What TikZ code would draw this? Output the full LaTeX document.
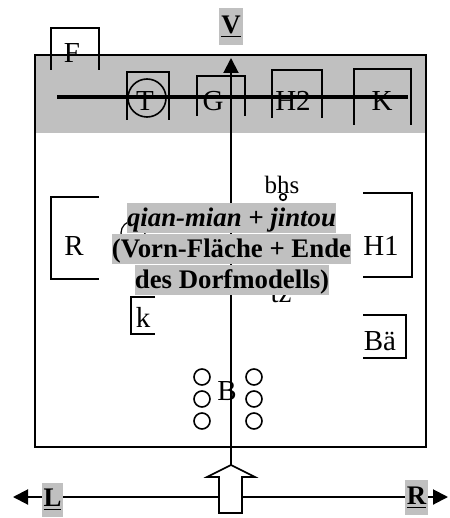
\documentclass[tikz,border=0pt]{standalone}
\usepackage{fontspec}
\setmainfont{Liberation Serif}
\usepackage{tikz}
\usetikzlibrary{arrows.meta}
\usepackage{xcolor}
\definecolor{dfgray}{RGB}{192,192,192}
\tikzset{
  sitelabel/.style={font=\fontsize{14.5}{16}\selectfont,inner sep=0pt,anchor=base},
  dirlabel/.style={font=\fontsize{13.4}{15}\bfseries,fill=dfgray,inner sep=0pt},
  textline/.style={font=\fontsize{13.4}{15}\bfseries,fill=dfgray,inner xsep=0pt,inner ysep=0pt,
    text height=11.5pt,text depth=3.5pt},
  bracketline/.style={line width=0.8pt},
  framebox/.style={line width=1pt},
  ridgebar/.style={line width=2.2pt},
  dirarrow/.style={line width=1pt,-{Triangle[length=7.5pt,width=7.5pt]}},
  seatcircle/.style={line width=0.8pt}
}

\begin{document}
\begin{tikzpicture}[x=0.5pt,y=-0.5pt]
  \useasboundingbox (0,0) rectangle (449,518);
  % front band and frame
  \fill[dfgray] (35,55) rectangle (426,133);
  \draw[framebox] (35,55) rectangle (426,447);
  % open boxes
  \draw[bracketline] (51,70) -- (51,28) -- (99,28) -- (99,70);
  \draw[bracketline] (127,120) -- (127,72) -- (169,72) -- (169,120);
  \draw[bracketline] (197,116) -- (197,76) -- (245,76) -- (245,116);
  \draw[bracketline] (272,118) -- (272,70) -- (322,70) -- (322,118);
  \draw[bracketline] (354,125) -- (354,69) -- (411,69) -- (411,125);
  \draw[bracketline] (99,197) -- (51,197) -- (51,279) -- (99,279);
  \draw[bracketline] (363,193) -- (412,193) -- (412,277) -- (363,277);
  \draw[bracketline] (155,297) -- (131,297) -- (131,334) -- (155,334);
  \draw[bracketline] (363,315) -- (406,315) -- (406,358) -- (363,358);
  \draw[seatcircle] (147,98) circle[radius=9.5pt];
  \draw[seatcircle,line width=0.6pt] (133,233) circle[radius=6pt];
  \draw[seatcircle] (283,197) circle[radius=1.65pt];
  % site labels
  \node[sitelabel] (f) at (72,63) {F};
  \node[sitelabel] (t) at (145,111) {T};
  \node[sitelabel] (g) at (213,111) {G};
  \node[sitelabel] (h2) at (293,111) {H2};
  \node[sitelabel] (k) at (382,111) {K};
  \node[sitelabel] (r) at (74,255) {R};
  \node[sitelabel] (h1) at (381,255) {H1};
  \node[sitelabel,font=\fontsize{12.5}{14}\selectfont] (bhs) at (282,193) {bhs};
  \node[sitelabel] (ksmall) at (143,327) {k};
  \node[sitelabel] (bae) at (380,350) {Bä};
  \node[sitelabel] (tz) at (281,302) {tz};
  \node[sitelabel] (b) at (227,400) {B};
  % benches
  \foreach \yy in {377,399,421} {
    \draw[seatcircle] (202,\yy) circle[radius=4pt];
    \draw[seatcircle] (254,\yy) circle[radius=4pt];
  }
  % ridge bar
  \coordinate (barW) at (57,97);
  \coordinate (barE) at (408,97);
  \draw[ridgebar] (barW) -- (barE);
  % axes
  \coordinate (htip) at (231,465);
  \coordinate (vtip) at (231,58);
  \coordinate (lend) at (13,497);
  \coordinate (rend) at (448,497);
  \draw[dirarrow] (htip) -- (vtip);
  \draw[dirarrow,{Triangle[length=7.5pt,width=7.5pt]}-{Triangle[length=7.5pt,width=7.5pt]}] (lend) -- (rend);
  \draw[line width=0.8pt,fill=white] (htip) -- (255,477) -- (242,477) -- (242,513)
    -- (219,513) -- (219,477) -- (207,477) -- cycle;
  % direction labels
  \node[dirlabel,minimum width=12pt,minimum height=18.5pt] (v) at (231,26.5) {\underline{V}};
  \node[dirlabel,minimum width=10.5pt,minimum height=17pt] (l) at (52.5,500) {\underline{L}};
  \node[dirlabel,minimum width=11.5pt,minimum height=17.5pt] (rr) at (416.5,497.5) {\underline{R}};
  % caption block
  \node[textline] (cap1) at (231.5,218) {\itshape qian-mian + jintou};
  \node[textline] (cap2) at (231.5,249) {(Vorn-Fläche + Ende};
  \node[textline] (cap3) at (232,280) {des Dorfmodells)};
\end{tikzpicture}
\end{document}
